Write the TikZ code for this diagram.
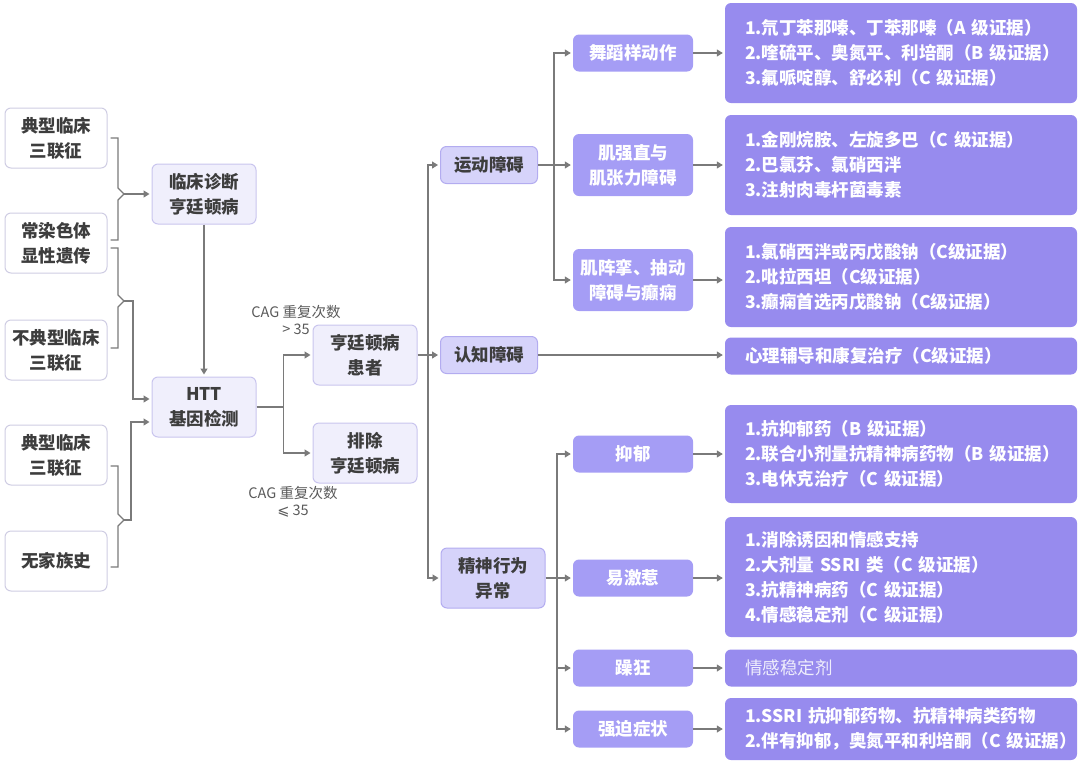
\documentclass[tikz,border=0pt]{standalone}
\usepackage{fontspec}
\setmainfont{Noto Sans CJK SC}
\newfontfamily\symfont{DejaVu Sans}
\usetikzlibrary{arrows.meta}

\definecolor{txtgray}{HTML}{3D3D3D}
\definecolor{linegray}{HTML}{7A7A7A}
\definecolor{leftline}{HTML}{CFCDE3}
\definecolor{palefill}{HTML}{F0EFFC}
\definecolor{paleline}{HTML}{C9C5EE}
\definecolor{catfill}{HTML}{D6D3FA}
\definecolor{catline}{HTML}{B3ACF0}
\definecolor{subfill}{HTML}{A59DF5}
\definecolor{therfill}{HTML}{978BEE}

\tikzset{
	box/.style={rounded corners=6pt, align=center, inner sep=0pt, text=txtgray,
		font=\fontsize{17.5}{25}\selectfont\bfseries},
	leftbox/.style={box, draw=leftline, fill=white, line width=1pt,
		minimum width=102pt, minimum height=60pt},
	stepbox/.style={box, draw=paleline, fill=palefill, line width=1pt,
		minimum width=104pt, minimum height=60pt},
	catbox/.style={box, draw=catline, fill=catfill, line width=1pt,
		minimum width=97pt, minimum height=37pt},
	subbox/.style={box, fill=subfill, text=white, minimum width=120pt, minimum height=37pt},
	therbox/.style={box, fill=therfill, text=white, align=left, text width=312pt,
		inner xsep=20pt, minimum height=37pt},
	cag/.style={align=center, text=txtgray!85, font=\fontsize{14.5}{17}\selectfont},
	line/.style={draw=linegray, line width=1.2pt},
	arrow/.style={line, -{Triangle[length=6pt,width=7pt]}, shorten >=2pt}
}

\begin{document}
\begin{tikzpicture}[x=1pt,y=-1pt]
	\useasboundingbox (0,0) rectangle (1080,764);

	% left column
	\node[leftbox] (tri1) at (56,138) {典型临床\\三联征};
	\node[leftbox] (auto) at (56,243) {常染色体\\显性遗传};
	\node[leftbox] (atyp) at (56,350) {不典型临床\\三联征};
	\node[leftbox] (tri2) at (56,455) {典型临床\\三联征};
	\node[leftbox] (nofam) at (56,561) {无家族史};

	% diagnosis
	\node[stepbox] (clin) at (204,194) {临床诊断\\亨廷顿病};
	\node[stepbox] (htt) at (204,407) {HTT\\基因检测};
	\node[stepbox] (pat) at (365,355) {亨廷顿病\\患者};
	\node[stepbox] (excl) at (365,453) {排除\\亨廷顿病};
	\node[cag] (gt) at (296,320) {CAG 重复次数\\> 35};
	\node[cag] (le) at (293,502) {CAG 重复次数\\{\symfont ⩽} 35};

	% symptom groups
	\node[catbox] (motor) at (489,165) {运动障碍};
	\node[catbox] (cogn) at (489,355) {认知障碍};
	\node[catbox, minimum width=104pt, minimum height=60pt] (psych) at (493,578) {精神行为\\异常};

	\node[subbox] (chorea) at (633,53) {舞蹈样动作};
	\node[subbox, minimum height=62pt] (rigid) at (633,165) {肌强直与\\肌张力障碍};
	\node[subbox, minimum height=62pt] (myoc) at (633,280) {肌阵挛、抽动\\障碍与癫痫};
	\node[subbox] (depr) at (633,454) {抑郁};
	\node[subbox] (irrit) at (633,578) {易激惹};
	\node[subbox] (mania) at (633,668) {躁狂};
	\node[subbox] (ocd) at (633,729) {强迫症状};

	% therapies
	\node[therbox, minimum height=100pt] (t1) at (901,53) {1.氘丁苯那嗪、丁苯那嗪（A~级证据）\\2.喹硫平、奥氮平、利培酮（B~级证据）\\3.氟哌啶醇、舒必利（C~级证据）};
	\node[therbox, minimum height=100pt] (t2) at (901,165) {1.金刚烷胺、左旋多巴（C~级证据）\\2.巴氯芬、氯硝西泮\\3.注射肉毒杆菌毒素};
	\node[therbox, minimum height=100pt] (t3) at (901,277) {1.氯硝西泮或丙戊酸钠（C级证据）\\2.吡拉西坦（C级证据）\\3.癫痫首选丙戊酸钠（C级证据）};
	\node[therbox] (t4) at (901,356) {心理辅导和康复治疗（C级证据）};
	\node[therbox, minimum height=98pt] (t5) at (901,454) {1.抗抑郁药（B~级证据）\\2.联合小剂量抗精神病药物（B~级证据）\\3.电休克治疗（C~级证据）};
	\node[therbox, minimum height=120pt] (t6) at (901,577) {1.消除诱因和情感支持\\2.大剂量~SSRI~类（C~级证据）\\3.抗精神病药（C~级证据）\\4.情感稳定剂（C~级证据）};
	\node[therbox, text=white!85!therfill, font=\fontsize{17.5}{25}\selectfont] (t7) at (901,668) {情感稳定剂};
	\node[therbox, minimum height=62pt] (t8) at (901,729) {1.SSRI~抗抑郁药物、抗精神病类药物\\2.伴有抑郁，奥氮平和利培酮（C~级证据）};

	% brackets on the left
	\coordinate (br1) at (124,194);
	\coordinate (br2) at (124,301);
	\coordinate (br3) at (124,520);
	\draw[line] ([xshift=3pt]tri1.east) -- (118,138) -- (118,188) -- (br1) -- (118,200) -- (118,240) -- ([xshift=3pt,yshift=3pt]auto.east);
	\draw[line] ([xshift=3pt,yshift=-5pt]auto.east) -- (118,248) -- (118,295) -- (br2) -- (118,307) -- (118,348) -- ([xshift=3pt,yshift=2pt]atyp.east);
	\draw[line] ([xshift=3pt,yshift=-11pt]tri2.east) -- (118,466) -- (118,514) -- (br3) -- (118,526) -- (118,567) -- ([xshift=3pt,yshift=-6pt]nofam.east);
	\draw[arrow] (br1) -- (clin.west);
	\draw[arrow] (br2) -- (133,301) |- ([yshift=8pt]htt.west);
	\draw[arrow] (br3) -- (131,520) |- ([yshift=-15pt]htt.west);

	\draw[arrow] (clin.south) -- (htt.north);
	\draw[arrow] (htt.east) -- ++(27,0) coordinate (s1) |- (pat.west);
	\draw[arrow] (s1) |- (excl.west);

	% main trunk
	\draw[arrow] (pat.east) -- (cogn.west);
	\coordinate (s2) at (428,355);
	\draw[arrow] (s2) |- (motor.west);
	\draw[arrow] (s2) |- (psych.west);

	\draw[arrow] (motor.east) -- (rigid.west);
	\coordinate (s3) at (554,165);
	\draw[arrow] (s3) |- (chorea.west);
	\draw[arrow] (s3) |- (myoc.west);

	\draw[arrow] (psych.east) -- (irrit.west);
	\coordinate (s4) at (557,578);
	\draw[arrow] (s4) |- (depr.west);
	\draw[arrow] (s4) |- (mania.west);
	\draw[arrow] (s4) |- (ocd.west);

	\draw[arrow] (chorea.east) -- (chorea.east -| t1.west);
	\draw[arrow] (rigid.east) -- (rigid.east -| t2.west);
	\draw[arrow] (myoc.east) -- (myoc.east -| t3.west);
	\draw[arrow] (cogn.east) -- (cogn.east -| t4.west);
	\draw[arrow] (depr.east) -- (depr.east -| t5.west);
	\draw[arrow] (irrit.east) -- (irrit.east -| t6.west);
	\draw[arrow] (mania.east) -- (mania.east -| t7.west);
	\draw[arrow] (ocd.east) -- (ocd.east -| t8.west);
\end{tikzpicture}
\end{document}
